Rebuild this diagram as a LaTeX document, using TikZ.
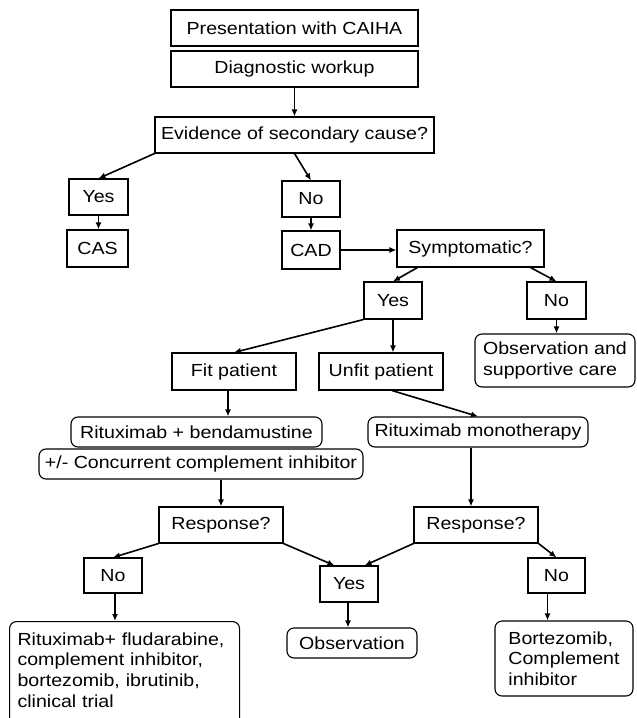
\documentclass[tikz,border=0pt]{standalone}
\usepackage{fontspec}
\setmainfont{Liberation Sans}[FakeStretch=1.12]
\usetikzlibrary{arrows.meta}

\begin{document}
\begin{tikzpicture}[x=1pt,y=-1pt,font=\fontsize{17.5}{20.7}\selectfont,
        box/.style={draw,line width=1.1pt,inner sep=0pt,minimum height=36pt},
        rbox/.style={box,rounded corners=7pt,minimum height=30pt},
        arr/.style={line width=1.6pt,-{Latex[length=7pt,width=6pt]}}]
    \useasboundingbox (0,0) rectangle (637,718);
    % top of the chart
    \node[box,minimum width=247pt] (pres) at (294.5,28) {Presentation with CAIHA};
    \node[box,minimum width=247pt] (diag) at (294.5,69) {Diagnostic workup};
    \node[box,minimum width=279pt] (evid) at (294.5,135) {Evidence of secondary cause?};
    \node[box,minimum width=59pt] (yesA) at (98.5,197) {Yes};
    \node[box,minimum width=61pt,minimum height=37pt] (cas) at (97.5,248.5) {CAS};
    \node[box,minimum width=58pt] (noA) at (311,199) {No};
    \node[box,minimum width=58pt,minimum height=38pt] (cad) at (311,250) {CAD};
    \node[box,minimum width=147pt,minimum height=37pt] (sympt) at (470.5,248.5) {Symptomatic?};
    \node[box,minimum width=58pt,minimum height=37pt] (yesB) at (393,300.5) {Yes};
    \node[box,minimum width=59pt,minimum height=37pt] (noB) at (556.5,300.5) {No};
    \node[rbox,minimum width=160pt,minimum height=53pt,align=left] (obsB) at (555,360.5)
        {Observation and\\supportive care};
    % treatment
    \node[box,minimum width=124pt,minimum height=37pt] (fit) at (234,371.5) {Fit patient};
    \node[box,minimum width=124pt,minimum height=37pt] (unfit) at (381,371.5) {Unfit patient};
    \node[rbox,minimum width=251pt] (ritbend) at (196.5,432) {Rituximab + bendamustine};
    \node[rbox,minimum width=324pt] (conc) at (201,464) {+/- Concurrent complement inhibitor};
    \node[rbox,minimum width=220pt] (ritmono) at (478,432) {Rituximab monotherapy};
    \node[box,minimum width=124pt] (respA) at (221,525) {Response?};
    \node[box,minimum width=124pt] (respB) at (476,525) {Response?};
    \node[box,minimum width=58pt,minimum height=35pt] (noC) at (113,575.5) {No};
    \node[box,minimum width=58pt] (yesC) at (349,584) {Yes};
    \node[box,minimum width=57pt,minimum height=35pt] (noD) at (556.5,575.5) {No};
    \node[rbox,anchor=north west,text width=214pt,inner xsep=8pt,inner ysep=11pt,
        align=left] (ritflu) at (9,621)
        {Rituximab+ fludarabine,\\complement inhibitor,\\bortezomib, ibrutinib,\\clinical trial\\[10pt]\mbox{}};
    \node[rbox,minimum width=130pt] (obsC) at (352,643) {Observation};
    \node[rbox,minimum width=138pt,minimum height=75pt,align=left] (bort) at (564,658.5)
        {Bortezomib,\\Complement\\inhibitor};

    \draw[arr] (diag) -- (evid);
    \draw[arr] (evid.south west) -- (yesA.north);
    \draw[arr] (evid.south) -- (noA.north);
    \draw[arr] (yesA.south) -- (yesA.south |- cas.north);
    \draw[arr] (noA) -- (cad);
    \draw[arr] (cad.east) -- (cad.east -| sympt.west);
    \draw[arr] ([xshift=21pt]sympt.south west) -- (yesB.north);
    \draw[arr] ([xshift=-14pt]sympt.south east) -- (noB.north);
    \draw[arr] (noB.south) -- (noB.south |- obsB.north);
    \draw[arr] (yesB.south west) -- (fit.north);
    \draw[arr] (yesB.south) -- (yesB.south |- unfit.north);
    \draw[arr] ([xshift=-6pt]fit.south) -- ([xshift=-6pt]fit.south |- ritbend.north);
    \draw[arr] ([xshift=11pt]unfit.south) -- (ritmono.north);
    \draw[arr] (respA.north |- conc.south) -- (respA.north);
    \draw[arr] ([xshift=-5pt]respB.north |- ritmono.south) -- ([xshift=-5pt]respB.north);
    \draw[arr] (respA.south west) -- (noC.north);
    \draw[arr] (respA.south east) -- ([xshift=15pt]yesC.north west);
    \draw[arr] (respB.south west) -- ([xshift=-14pt]yesC.north east);
    \draw[arr] (respB.south east) -- (noD.north);
    \draw[arr] ([xshift=2pt]noC.south) -- ([xshift=2pt]noC.south |- ritflu.north);
    \draw[arr] ([xshift=-1pt]yesC.south) -- ([xshift=-1pt]yesC.south |- obsC.north);
    \draw[arr] ([xshift=-9pt]noD.south) -- ([xshift=-9pt]noD.south |- bort.north);
\end{tikzpicture}
\end{document}
